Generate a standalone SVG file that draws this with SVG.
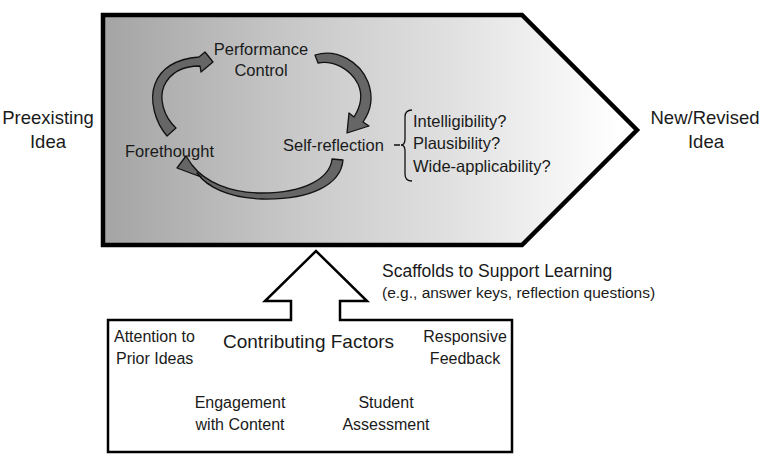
<svg xmlns="http://www.w3.org/2000/svg" width="768" height="461" viewBox="0 0 768 461">
<defs>
<linearGradient id="g" gradientUnits="userSpaceOnUse" x1="103" y1="0" x2="620" y2="0">
<stop offset="0" stop-color="#a4a4a4"/>
<stop offset="0.38" stop-color="#c9c9c9"/>
<stop offset="0.67" stop-color="#e0e0e0"/>
<stop offset="1" stop-color="#ffffff"/>
</linearGradient>
<style>
text{font-family:"Liberation Sans",Arial,sans-serif;fill:#1a1a1a;}
.t18{font-size:18.5px;}
.t16{font-size:16.5px;}
.t15{font-size:15.5px;}
.c{text-anchor:middle;}
.arr{fill:#666;stroke:#111;stroke-width:1.3;stroke-linejoin:round;}
.ln{fill:none;stroke:#111;}
</style>
</defs>
<g id="main-process">
<path d="M103,15 L522,15 L637,130 L522,245 L103,245 Z" fill="url(#g)" stroke="#000" stroke-width="4.5" stroke-linejoin="miter"/>
</g>
<g id="preexisting">
<text class="t18 c" x="48" y="124">Preexisting</text>
<text class="t18 c" x="48" y="148">Idea</text>
</g>
<g id="new-idea">
<text class="t18 c" x="705" y="124">New/Revised</text>
<text class="t18 c" x="706" y="148">Idea</text>
</g>
<g id="performance">
<text class="t16 c" x="261" y="55">Performance</text>
<text class="t16 c" x="261" y="76">Control</text>
</g>
<g id="forethought">
<text class="t16" x="125" y="157">Forethought</text>
</g>
<g id="self-reflection">
<text class="t16" x="283" y="151">Self-reflection</text>
</g>
<g id="criteria">
<path class="ln" stroke-width="1.3" d="M412,110 Q405,110 405,117 L405,139 Q405,145 401,145 Q405,145 405,151 L405,174 Q405,181 412,181 M394,145 L400,145"/>
<text class="t16" x="413" y="127">Intelligibility?</text>
<text class="t16" x="413" y="149">Plausibility?</text>
<text class="t16" x="413" y="172">Wide-applicability?</text>
</g>
<g id="connectors">
<path class="arr" d="M167,136 C155,122 149,100 155,84 C161,68 176,59 199,57 L205,52 L213,62 L201,72 L200,66 C182,66 170,73 164,86 C159,98 163,116 176,128 Z"/>
<path class="arr" d="M315,55 C337,48 360,62 368,82 C374,98 370,112 363,122 L369,126 L347,133 L349,113 L354,117 C361,106 363,95 358,84 C350,68 332,60 318,63 Z"/>
<path class="arr" d="M332,159 L343,160 C341,184 312,200 262,199 C229,198 207,187 197,173 L201,177 L177,168 L186,156 L192,165 C205,182 230,193 262,193 C305,193 330,178 332,159 Z"/>
</g>
<g id="contributing-factors">
<path d="M108,320 L291,320 L291,301 L265,301 L316,251 L367,301 L340,301 L340,320 L512,320 L512,452 L108,452 Z" fill="#fff" stroke="#000" stroke-width="2.5"/>
<text x="223" y="348" style="font-size:19px">Contributing Factors</text>
</g>
<g id="scaffolds">
<text x="382" y="277" style="font-size:17.5px">Scaffolds to Support Learning</text>
<text class="t15" x="382" y="298">(e.g., answer keys, reflection questions)</text>
</g>
<g id="attention">
<text x="114" y="342" style="font-size:16px">Attention to</text>
<text x="116" y="364" style="font-size:16px">Prior Ideas</text>
</g>
<g id="feedback">
<text class="c" x="465" y="342" style="font-size:16px">Responsive</text>
<text class="c" x="465" y="364" style="font-size:16px">Feedback</text>
</g>
<g id="engagement">
<text class="c" x="240" y="408" style="font-size:16px">Engagement</text>
<text class="c" x="240" y="430" style="font-size:16px">with Content</text>
</g>
<g id="assessment">
<text class="c" x="386" y="408" style="font-size:16px">Student</text>
<text class="c" x="386" y="430" style="font-size:16px">Assessment</text>
</g>
</svg>
